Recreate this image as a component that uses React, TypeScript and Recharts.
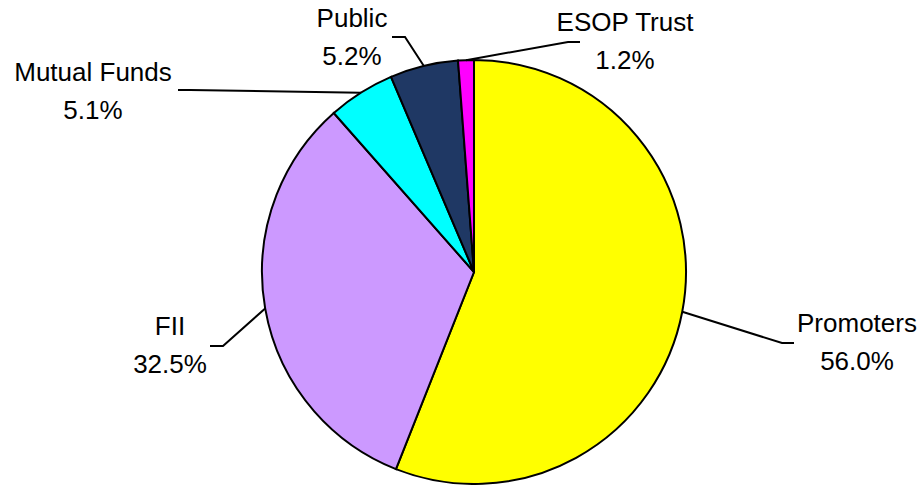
import React from "react";
import { PieChart, Pie, Cell } from "recharts";

const holders = ["Promoters", "FII", "Mutual Funds", "Public", "ESOP Trust"];
const shares = [56.0, 32.5, 5.1, 5.2, 1.2];
const colors = ["#FFFF00", "#CC99FF", "#00FFFF", "#1F3864", "#FF00FF"];

// label placement relative to pie centre (moved by hand in the original)
const labelSpots = [
  { ex: 308, ey: 71, hx: 320, tx: 383, ty: 51 },
  { ex: -251, ey: 74, hx: -264, tx: -304, ty: 54 },
  { ex: -284, ey: -182, hx: -296, tx: -381, ty: -200 },
  { ex: -69, ey: -235, hx: -82, tx: -122, ty: -254 },
  { ex: 94, ey: -230, hx: 106, tx: 151, ty: -250 },
];

const data = holders.map((name, i) => ({ name, value: shares[i] }));

const RAD = Math.PI / 180;
const FONT = "'Liberation Sans', Arial, sans-serif";

function renderLabel(props: any) {
  const { cx, cy, midAngle, outerRadius, index, name, value } = props;
  const spot = labelSpots[index];
  const sx = cx + outerRadius * Math.cos(-midAngle * RAD);
  const sy = cy + outerRadius * Math.sin(-midAngle * RAD);
  const ex = cx + spot.ex;
  const ey = cy + spot.ey;
  const hx = cx + spot.hx;
  const tx = cx + spot.tx;
  const ty = cy + spot.ty;
  return (
    <g>
      <polyline
        points={`${sx},${sy} ${ex},${ey} ${hx},${ey}`}
        fill="none"
        stroke="#000"
        strokeWidth={2}
      />
      <text x={tx} y={ty} textAnchor="middle" dominantBaseline="central" fill="#000" fontSize={26} fontFamily={FONT}>
        {name}
      </text>
      <text x={tx} y={ty + 38} textAnchor="middle" dominantBaseline="central" fill="#000" fontSize={26} fontFamily={FONT}>
        {value.toFixed(1)}%
      </text>
    </g>
  );
}

export default function App() {
  return (
    <div style={{ position: "absolute", left: 0, top: 0, width: 921, height: 485, background: "#fff" }}>
      <PieChart width={921} height={485} margin={{ top: 0, right: 0, bottom: 0, left: 0 }}>
        <Pie
          data={data}
          dataKey="value"
          nameKey="name"
          cx={474}
          cy={272}
          outerRadius={212}
          startAngle={90}
          endAngle={-270}
          stroke="#000"
          strokeWidth={2}
          labelLine={false}
          label={renderLabel}
          isAnimationActive={false}
        >
          {data.map((d, i) => (
            <Cell key={d.name} fill={colors[i]} />
          ))}
        </Pie>
      </PieChart>
    </div>
  );
}
